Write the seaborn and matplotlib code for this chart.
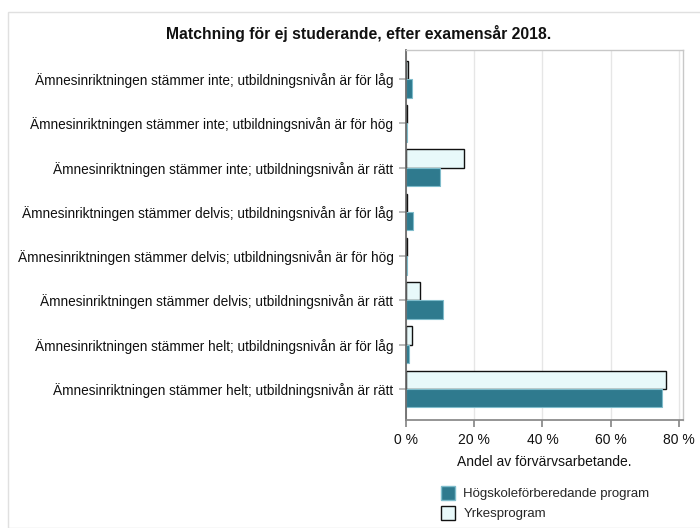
import matplotlib
matplotlib.use("Agg")
import matplotlib.pyplot as plt
import seaborn as sns
import pandas as pd
from matplotlib.patches import Patch, Rectangle
from matplotlib.ticker import FuncFormatter

categories = [
    "Ämnesinriktningen stämmer inte; utbildningsnivån är för låg",
    "Ämnesinriktningen stämmer inte; utbildningsnivån är för hög",
    "Ämnesinriktningen stämmer inte; utbildningsnivån är rätt",
    "Ämnesinriktningen stämmer delvis; utbildningsnivån är för låg",
    "Ämnesinriktningen stämmer delvis; utbildningsnivån är för hög",
    "Ämnesinriktningen stämmer delvis; utbildningsnivån är rätt",
    "Ämnesinriktningen stämmer helt; utbildningsnivån är för låg",
    "Ämnesinriktningen stämmer helt; utbildningsnivån är rätt",
]
yrkes = [0.7, 0.3, 16.9, 0.3, 0.3, 4.2, 1.7, 76.2]
hogskole = [1.8, 0.3, 10.1, 2.1, 0.4, 10.7, 0.8, 74.9]
series_names = ["Högskoleförberedande program", "Yrkesprogram"]
x_ticks = [0, 20, 40, 60, 80]

df = pd.DataFrame({
    "kategori": categories * 2,
    "andel": yrkes + hogskole,
    "program": [series_names[1]] * len(categories) + [series_names[0]] * len(categories),
})

sns.set_theme(style="white")
plt.rcParams["font.family"] = ["Liberation Sans", "DejaVu Sans"]

teal = "#2f7a8e"
light = "#e8f9fa"

fig = plt.figure(figsize=(7.0, 5.28), dpi=100)
ax = fig.add_axes([406 / 700, 1 - 420 / 528, (683 - 406) / 700, (420 - 49.5) / 528])

sns.barplot(data=df, y="kategori", x="andel", hue="program",
            hue_order=[series_names[1], series_names[0]],
            palette=[light, teal], orient="h", width=0.83,
            ax=ax, legend=False, saturation=1)

for bar in ax.containers[0]:
    bar.set_edgecolor("#111111")
    bar.set_linewidth(1.0)
for bar in ax.containers[1]:
    bar.set_edgecolor("#7fbccb")
    bar.set_linewidth(0.8)

ax.set_xlim(0, 81.2)
ax.set_ylim(7.7, -0.67)
ax.set_xticks(x_ticks)
ax.xaxis.set_major_formatter(FuncFormatter(lambda v, p: f"{v:.0f} %"))
ax.grid(axis="x", color="#e6e6e6", linewidth=1)
ax.set_axisbelow(True)
ax.set_ylabel("")
ax.set_xlabel("Andel av förvärvsarbetande.", fontsize=10, color="#111111", labelpad=6)
ax.tick_params(axis="y", length=5, color="#b0b0b0", labelsize=9.8, pad=4, left=True)
ax.tick_params(axis="x", length=5, color="#888888", labelsize=10, pad=4, bottom=True)
for side in ["top", "right"]:
    ax.spines[side].set_color("#c8c8c8")
    ax.spines[side].set_linewidth(1)
ax.spines["left"].set_color("#666666")
ax.spines["bottom"].set_color("#888888")
for lbl in ax.get_yticklabels() + ax.get_xticklabels():
    lbl.set_color("#111111")

fig.text(359 / 700, 1 - 34 / 528, "Matchning för ej studerande, efter examensår 2018.",
         ha="center", va="center", fontsize=11.3, fontweight="bold", color="#111111")

# frame around the figure
fig.patches.append(Rectangle((8 / 700, 0), 1, 1 - 12 / 528, transform=fig.transFigure,
                             fill=False, edgecolor="#e0e0e0", linewidth=1))

handles = [Patch(facecolor=teal, edgecolor="#7fbccb", label=series_names[0]),
           Patch(facecolor=light, edgecolor="#111111", label=series_names[1])]
fig.legend(handles=handles, loc="upper left", bbox_to_anchor=(429 / 700, 1 - 474 / 528),
           frameon=False, fontsize=9.5, handlelength=1.1, handleheight=1.3,
           handletextpad=0.6, labelspacing=0.4)

fig.savefig("out.png", dpi=100)
